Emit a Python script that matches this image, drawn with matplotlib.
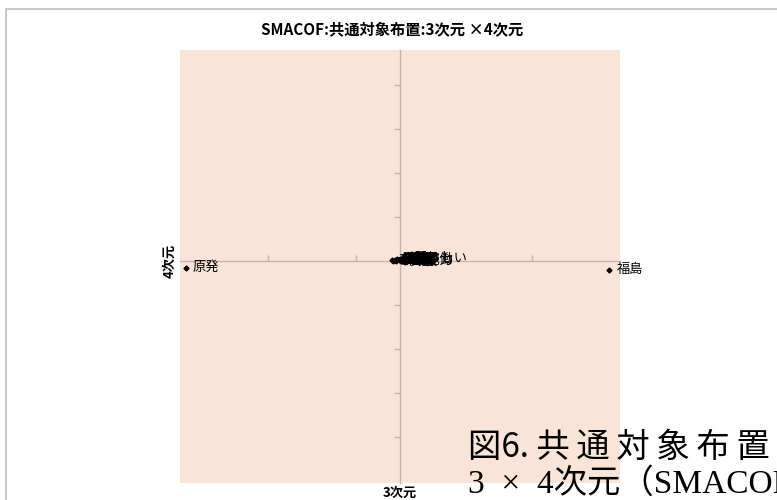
#!/usr/bin/env python3
# SMACOF common object configuration, dimension 3 vs dimension 4

import matplotlib
matplotlib.use('Agg')
from matplotlib import pyplot as plt
from matplotlib.patches import Rectangle

plt.rcParams['font.family'] = ['Noto Sans CJK JP', 'DejaVu Sans']

# object coordinates (dim 3 / dim 4)
terms = ['原発', '福島',
         '事故', '放射能', '電力', '東電', '避難', '汚染', '政府', '安全',
         '地震', '津波', '復興', '被害', '不安', '再稼働', '原子力', '恐ろしい']
dim3 = [-0.975, 0.952,
        -0.038, -0.030, -0.024, -0.018, -0.012, -0.006, 0.000, 0.004,
        0.008, 0.012, 0.016, 0.020, 0.024, 0.028, 0.030, 0.034]
dim4 = [-0.030, -0.040,
        0.004, 0.002, 0.006, 0.000, 0.008, 0.003, 0.010, -0.002,
        0.005, 0.012, 0.001, 0.007, -0.004, 0.009, 0.004, 0.011]

x_ticks = [-0.6, -0.2, 0.2, 0.6]
y_ticks = [-0.8, -0.6, -0.4, -0.2, 0.2, 0.4, 0.6, 0.8]

bg_color = '#f9e4d7'
axis_color = '#c2b6ae'

fig = plt.figure(figsize=(7.77, 5.0), dpi=100)

# chart frame
fig.patches.append(Rectangle((6/777, -0.1), 1.2, 1 - 9/500 + 0.1, transform=fig.transFigure,
                             fill=False, ec='#bdbdbd', lw=1.2))

ax = fig.add_axes([180/777, 17/500, 440/777, 433/500])
ax.set_facecolor(bg_color)
ax.set_xlim(-1.0, 1.0)
ax.set_ylim(-1.009, 0.959)

for side in ['top', 'right']:
    ax.spines[side].set_visible(False)
for side in ['left', 'bottom']:
    ax.spines[side].set_position('zero')
    ax.spines[side].set_color(axis_color)
    ax.spines[side].set_linewidth(1.0)

ax.set_xticks(x_ticks)
ax.set_yticks(y_ticks)
ax.set_xticklabels([])
ax.set_yticklabels([])
ax.tick_params(axis='x', direction='in', length=4, color=axis_color, width=1)
ax.tick_params(axis='y', direction='out', length=4, color=axis_color, width=1)

ax.plot(dim3, dim4, 'D', color='black', ms=2.5, clip_on=False, zorder=3)
for name, xi, yi in zip(terms, dim3, dim4):
    ax.annotate(name, xy=(xi, yi), xytext=(5, 0), textcoords='offset points',
                va='center', ha='left', fontsize=9.5, color='black',
                annotation_clip=False, zorder=4)

fig.text(392/777, 1 - 29/500, 'SMACOF:共通対象布置:3次元 ×4次元',
         ha='center', va='center', fontsize=11, fontweight='bold')
fig.text(170/777, 1 - 261/500, '4次元', rotation=90,
         ha='center', va='center', fontsize=9.5, fontweight='bold')
fig.text(400/777, 1 - 493/500, '3次元',
         ha='center', va='center', fontsize=9.5, fontweight='bold')

# figure caption, letter-spaced
sp = '\u2009'
fig.text(468/777, 1 - 447/500, '図6. ' + sp.join('共通対象布置'),
         ha='left', va='center', fontsize=24)
fig.text(468/777, 1 - 484/500, '3  ×  4次元（SMACOF）',
         ha='left', va='center', fontsize=24,
         family=['Liberation Serif', 'Noto Sans CJK JP'])

fig.savefig('out.png', dpi=100)
